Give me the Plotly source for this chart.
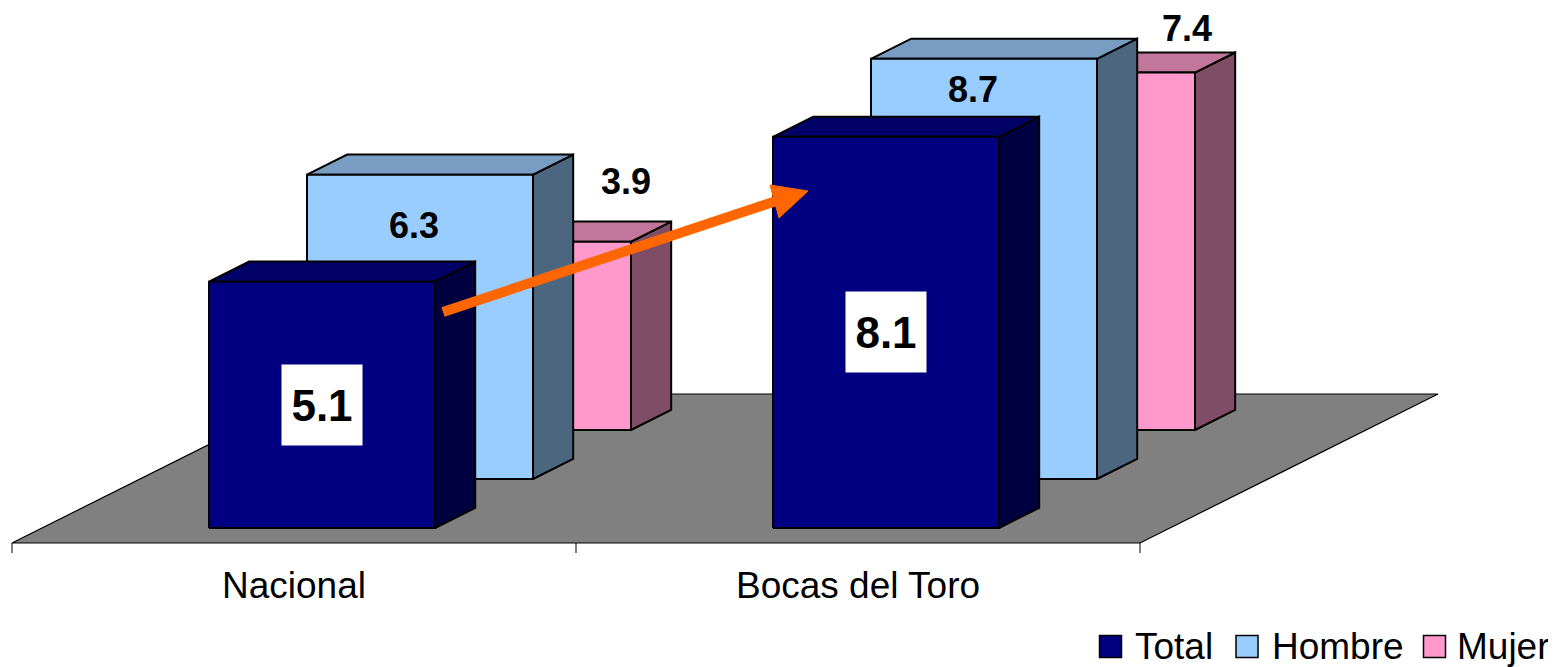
import plotly.graph_objects as go

# ---------------- data ----------------
categories = ["Nacional", "Bocas del Toro"]
series_names = ["Total", "Hombre", "Mujer"]
total = [5.1, 8.1]
hombre = [6.3, 8.7]
mujer = [3.9, 7.4]
series_values = [total, hombre, mujer]

# ---------------- style ----------------
front_colors = ["#000080", "#99CCFF", "#FF99CC"]
top_colors = ["#000066", "#789CC2", "#C07799"]
side_colors = ["#000040", "#4D6680", "#804D66"]
floor_color = "#808080"
arrow_color = "#FF6600"
FONT = "Liberation Sans, Arial, sans-serif"

WIN_W, WIN_H = 1556, 667
PAGE_OFF = 8                      # default body margin of the page
W, H = WIN_W - PAGE_OFF, WIN_H - PAGE_OFF
S = 48.3            # px per value unit
BASE_PY = 528       # window pixel row of front-row bar bottoms
CAT = 564           # world width of a category
X0 = 42             # world x of first category start
BAR_OFF = 167       # bar start inside a category
BW = 226            # bar width
DX = 98             # px per depth row (x)
DY = 49 / S         # value units per depth row (y)
BD = 0.41           # bar depth in rows
Z_FRONT = -0.306
Z_BACK = 2.735

# label offsets in px (dx, dy from front top centre)
hombre_lbl_off = [(-6, 51), (-11, 31)]
mujer_lbl_off = [(108, -60), (105, -44)]


def yv(py):
    return (BASE_PY - py) / S


def P(x, y, z):
    return x + z * DX, y + z * DY


fig = go.Figure()


def poly(pts, fill, lw=2.0, lc="black"):
    xs = [p[0] for p in pts] + [pts[0][0]]
    ys = [p[1] for p in pts] + [pts[0][1]]
    fig.add_trace(go.Scatter(x=xs, y=ys, mode="lines", fill="toself",
                             fillcolor=fill, line=dict(color=lc, width=lw),
                             hoverinfo="skip", showlegend=False))


# floor
xe = X0 + CAT * len(categories)
poly([P(X0, 0, Z_FRONT), P(xe, 0, Z_FRONT), P(xe, 0, Z_BACK), P(X0, 0, Z_BACK)],
     floor_color, lw=1.2)

# ticks
for k in range(len(categories) + 1):
    tx, ty = P(X0 + k * CAT, 0, Z_FRONT)
    fig.add_trace(go.Scatter(x=[tx, tx], y=[ty, ty - 10 / S], mode="lines",
                             line=dict(color="black", width=1),
                             hoverinfo="skip", showlegend=False))

# bars, back rows first
for r in reversed(range(len(series_names))):
    vals = series_values[r]
    for c, v in enumerate(vals):
        x0 = X0 + c * CAT + BAR_OFF
        x1 = x0 + BW
        z0, z1 = r, r + BD
        poly([P(x1, 0, z0), P(x1, 0, z1), P(x1, v, z1), P(x1, v, z0)], side_colors[r])
        poly([P(x0, v, z0), P(x1, v, z0), P(x1, v, z1), P(x0, v, z1)], top_colors[r])
        poly([P(x0, 0, z0), P(x1, 0, z0), P(x1, v, z0), P(x0, v, z0)], front_colors[r])

annotations = []

# value labels
for c, v in enumerate(total):
    cx, cy = P(X0 + c * CAT + BAR_OFF + BW / 2, v / 2, 0)
    annotations.append(dict(x=cx, y=cy, text="<b>%.1f</b>" % v, showarrow=False,
                            font=dict(family=FONT, size=44, color="black"),
                            bgcolor="white", width=80, height=80, borderpad=0,
                            xanchor="center", yanchor="middle"))
for r, offs in ((1, hombre_lbl_off), (2, mujer_lbl_off)):
    for c, v in enumerate(series_values[r]):
        cx, cy = P(X0 + c * CAT + BAR_OFF + BW / 2, v, r)
        annotations.append(dict(x=cx + offs[c][0], y=cy - offs[c][1] / S,
                                text="<b>%.1f</b>" % v, showarrow=False,
                                font=dict(family=FONT, size=36, color="black"),
                                xanchor="center", yanchor="middle"))

# category labels
for c, name in enumerate(categories):
    cx, cy = P(X0 + CAT * (c + 0.5), 0, Z_FRONT)
    annotations.append(dict(x=cx, y=yv(585), text=name, showarrow=False,
                            font=dict(family=FONT, size=37, color="black"),
                            xanchor="center", yanchor="middle"))

# arrow (annotation graphic)
fig.add_trace(go.Scatter(x=[443, 776], y=[yv(312), yv(201)], mode="lines",
                         line=dict(color=arrow_color, width=10),
                         hoverinfo="skip", showlegend=False))
fig.add_trace(go.Scatter(x=[808, 770, 779, 808], y=[yv(191), yv(185), yv(218), yv(191)],
                         mode="lines", fill="toself", fillcolor=arrow_color,
                         line=dict(color=arrow_color, width=1),
                         hoverinfo="skip", showlegend=False))

# legend (custom)
leg_sq_x = [1110.5, 1247, 1434.5]
leg_tx_x = [1133, 1270, 1455]
for i, name in enumerate(series_names):
    fig.add_trace(go.Scatter(x=[leg_sq_x[i]], y=[yv(646.5)], mode="markers",
                             marker=dict(symbol="square", size=22, color=front_colors[i],
                                         line=dict(color="black", width=1.5)),
                             hoverinfo="skip", showlegend=False))
    annotations.append(dict(x=leg_tx_x[i], y=yv(646), text=name, showarrow=False,
                            font=dict(family=FONT, size=37, color="black"),
                            xanchor="left", yanchor="middle"))

fig.update_layout(
    width=W, height=H,
    margin=dict(l=0, r=0, t=0, b=0),
    paper_bgcolor="white", plot_bgcolor="white",
    showlegend=False,
    annotations=annotations,
    xaxis=dict(range=[PAGE_OFF, WIN_W], visible=False, fixedrange=True),
    yaxis=dict(range=[yv(WIN_H), yv(PAGE_OFF)], visible=False, fixedrange=True),
)

fig.write_html("out.html")
